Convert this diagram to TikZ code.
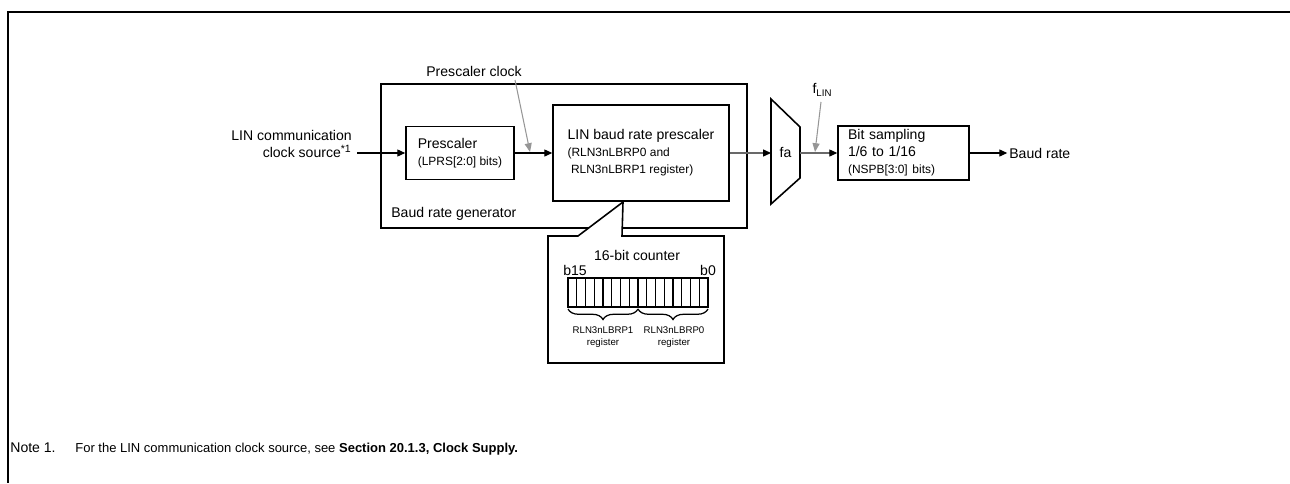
\documentclass[tikz,border=0pt]{standalone}
\usepackage{fontspec}
\setmainfont{Liberation Sans}
\usetikzlibrary{positioning,arrows.meta,decorations.pathreplacing}
\definecolor{linegray}{RGB}{105,105,105}
\definecolor{hintgray}{RGB}{150,150,150}
\newcommand{\smallfs}{\fontsize{6.8}{8.5}\selectfont}
\newcommand{\tinyfs}{\fontsize{5.5}{7.2}\selectfont}

\begin{document}
\begin{tikzpicture}[x=0.02cm,y=-0.02cm,font=\fontsize{8}{9.6}\selectfont,
 arr/.style={-{Triangle[length=4.5pt,width=4pt,color=black]},line width=0.6pt},
 garr/.style={-{Triangle[length=5pt,width=4pt]},hintgray,line width=0.6pt},
 blk/.style={draw,line width=0.9pt,inner sep=0pt},
 lbl/.style={inner sep=0pt}]
\useasboundingbox (0,0) rectangle (1290,483);
\draw[line width=1.15pt](1290,12)--(8,12)--(8,483);
\node[blk,minimum width=7.32cm,minimum height=2.88cm] (brg) at (564,156) {};
\node[lbl,anchor=base west] (brglbl) at (391,217) {Baud rate generator};
\node[blk,minimum width=2.16cm,minimum height=1.06cm,align=left] (pre) at (460,153) {Prescaler\\{\smallfs(LPRS[2:0] bits)}};
\node[blk,minimum width=3.52cm,minimum height=1.92cm,align=left] (lbrp) at (641,153) {LIN baud rate prescaler\\{\smallfs(RLN3nLBRP0 and}\\{\smallfs\hspace{2pt}RLN3nLBRP1 register)}};
\node[blk,minimum width=2.62cm,minimum height=1.08cm,text width=2.22cm,align=left] (bits) at (903.5,153) {Bit sampling\\1/6 to 1/16\\{\smallfs(NSPB[3:0] bits)}};
\draw[line width=0.9pt](771,99)--(800,127)--(800,178)--(771,204)--cycle;
\node[lbl] (fa) at (785.5,152) {fa};
\coordinate (muxin) at (771,153);
\coordinate (muxout) at (800,153);
\node[lbl,inner xsep=2.8pt,anchor=south east,align=right] (src) at (357,158) {LIN communication\\clock source\textsuperscript{*1}};
\node[lbl,anchor=west] (baud) at (1009,153) {Baud rate};
\node[lbl] (pclk) at (474,71) {Prescaler clock};
\coordinate (pclkfrom) at (515,80);
\coordinate (pclkhit) at (530,152);
\node[lbl] (flin) at (822,90) {f\raisebox{-0.35ex}{\tinyfs LIN}};
\coordinate (flinfrom) at (821,102);
\coordinate (flinhit) at (815,152);
\draw[arr] (src.east |- pre.west) -- (pre.west);
\draw[arr] (pre.east) -- (lbrp.west);
\draw[arr,linegray] (lbrp.east) -- (muxin);
\draw[arr,linegray] (muxout) -- (bits.west);
\draw[arr,shorten >=1pt] (bits.east) -- (baud.west);
\draw[garr] (pclkfrom) -- (pclkhit);
\draw[garr] (flinfrom) -- (flinhit);
\draw[line width=0.9pt,fill=white] (548,236)--(578,236)--(623,202)--(622,236)--(724,236)--(724,363)--(548,363)--cycle;
\node[lbl] (cnt) at (637,255) {16-bit counter};
\node[lbl] (msb) at (575,270) {b15};
\node[lbl] (lsb) at (708,270) {b0};
\foreach \i in {0,...,15} \draw[line width=0.8pt] (568+\i*8.75,278) rectangle ++(8.75,29);
\draw[line width=0.7pt,decorate,decoration={brace,mirror,amplitude=6pt}] (568,309) -- (638,309);
\draw[line width=0.7pt,decorate,decoration={brace,mirror,amplitude=6pt}] (638,309) -- (708,309);
\node[lbl,align=center,font=\tinyfs] (rp1) at (603,337) {RLN3nLBRP1\\register};
\node[lbl,align=center,font=\tinyfs] (rp0) at (674,337) {RLN3nLBRP0\\register};
\node[lbl,anchor=base west] (note) at (10,452) {Note 1.};
\node[lbl,anchor=base west,font=\fontsize{7.4}{9}\selectfont] (notetxt) at (75,452) {For the LIN communication clock source, see \textbf{Section 20.1.3, Clock Supply.}};
\end{tikzpicture}
\end{document}
